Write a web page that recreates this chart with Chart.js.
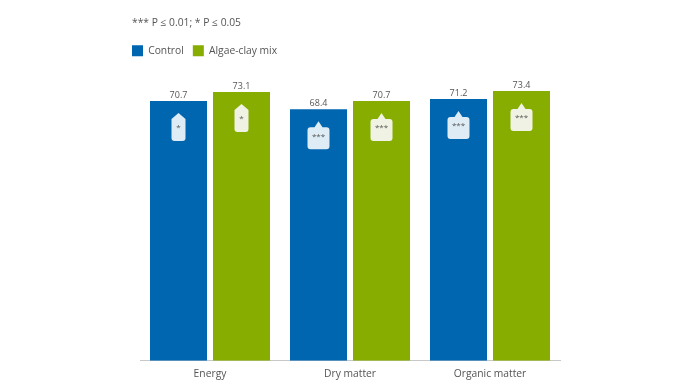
<!DOCTYPE html>
<html><head><meta charset="utf-8">
<style>html,body{margin:0;padding:0;background:#fff}#w{width:695px;height:390px}</style>
<script src="https://cdn.jsdelivr.net/npm/chart.js@4"></script></head>
<body><div id="w"><canvas id="c"></canvas></div>
<script>
const categories = ["Energy", "Dry matter", "Organic matter"];
const controlValues = [70.7, 68.4, 71.2];
const mixValues = [73.1, 70.7, 73.4];
const controlStars = ["*", "***", "***"];
const mixStars = ["*", "***", "***"];
const note = "*** P ≤ 0.01; * P ≤ 0.05";
const FONT = '"Open Sans", sans-serif';
const TXT = "#555";

function badge(ctx, cx, top, wide, fill, label) {
  const hw = wide ? 11 : 7, shoulder = 6, h = 28, r = 3;
  const bottom = top + h, y0 = top + shoulder;
  ctx.save();
  ctx.fillStyle = fill;
  ctx.beginPath();
  ctx.moveTo(cx, top);
  if (wide) {
    ctx.lineTo(cx + 4, y0);
    ctx.lineTo(cx + hw - r, y0);
    ctx.quadraticCurveTo(cx + hw, y0, cx + hw, y0 + r);
  } else {
    ctx.lineTo(cx + hw, y0);
  }
  ctx.lineTo(cx + hw, bottom - r);
  ctx.quadraticCurveTo(cx + hw, bottom, cx + hw - r, bottom);
  ctx.lineTo(cx - hw + r, bottom);
  ctx.quadraticCurveTo(cx - hw, bottom, cx - hw, bottom - r);
  if (wide) {
    ctx.lineTo(cx - hw, y0 + r);
    ctx.quadraticCurveTo(cx - hw, y0, cx - hw + r, y0);
    ctx.lineTo(cx - 4, y0);
  } else {
    ctx.lineTo(cx - hw, y0);
  }
  ctx.closePath();
  ctx.fill();
  ctx.fillStyle = "#555";
  ctx.font = "8px " + FONT;
  ctx.textAlign = "center";
  ctx.textBaseline = "middle";
  ctx.fillText(label, cx, top + 15);
  ctx.restore();
}

const marks = {
  id: "marks",
  afterLayout(chart) { chart.legend.left -= 9; },
  afterDatasetsDraw(chart) {
    const ctx = chart.ctx;
    chart.data.datasets.forEach((ds, i) => {
      chart.getDatasetMeta(i).data.forEach((bar, j) => {
        ctx.save();
        ctx.fillStyle = TXT;
        ctx.font = "9px " + FONT;
        ctx.textAlign = "center";
        ctx.textBaseline = "bottom";
        ctx.fillText(ds.data[j].toFixed(1), bar.x, bar.y - 1);
        ctx.restore();
        const s = ds.stars[j];
        badge(ctx, bar.x, bar.y + 12, s.length > 1, ds.badgeFill, s);
      });
    });
  }
};

new Chart(document.getElementById("c"), {
  type: "bar",
  data: {
    labels: categories,
    datasets: [
      { label: "Control", data: controlValues, stars: controlStars, badgeFill: "#deecf5",
        backgroundColor: "#0066b0", categoryPercentage: 0.9, barPercentage: 0.905 },
      { label: "Algae-clay mix", data: mixValues, stars: mixStars, badgeFill: "#f0f3e3",
        backgroundColor: "#86ad00", categoryPercentage: 0.9, barPercentage: 0.905 }
    ]
  },
  options: {
    responsive: true, maintainAspectRatio: false, animation: false,
    layout: { padding: { left: 132, right: 135, top: 17, bottom: 9 } },
    plugins: {
      tooltip: { enabled: false },
      title: { display: true, text: note, align: "start", color: TXT,
        font: { family: FONT, size: 10.3, weight: "normal" }, padding: { top: 0, bottom: 7 } },
      legend: { display: true, position: "top", align: "start",
        labels: { boxWidth: 11, boxHeight: 11, color: TXT, padding: 9,
          font: { family: FONT, size: 10.3 } } }
    },
    scales: {
      x: { grid: { display: false, tickLength: 6 }, border: { color: "#c8c8c8" },
        ticks: { color: TXT, font: { family: FONT, size: 10.3 }, padding: 1 } },
      y: { min: 0, max: 80.1, grid: { display: false }, border: { display: false },
        ticks: { display: false },
        afterFit(a) { a.width = 8; } }
    }
  },
  plugins: [marks]
});
</script></body></html>
